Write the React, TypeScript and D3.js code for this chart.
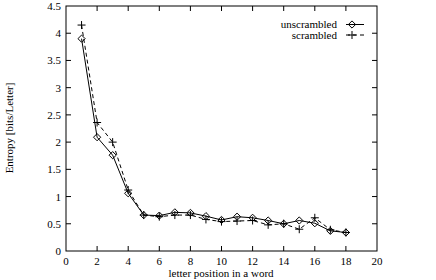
import React from "react";
import * as d3 from "d3";

const positions = [1, 2, 3, 4, 5, 6, 7, 8, 9, 10, 11, 12, 13, 14, 15, 16, 17, 18];
const unscrambled = [3.9, 2.09, 1.76, 1.06, 0.66, 0.65, 0.71, 0.7, 0.64, 0.57, 0.63, 0.61, 0.56, 0.5, 0.56, 0.51, 0.37, 0.34];
const scrambled = [4.15, 2.36, 2.0, 1.12, 0.66, 0.63, 0.66, 0.66, 0.58, 0.54, 0.55, 0.56, 0.48, 0.5, 0.4, 0.61, 0.39, 0.34];
const xTicks = [0, 2, 4, 6, 8, 10, 12, 14, 16, 18, 20];
const yTicks = [0, 0.5, 1, 1.5, 2, 2.5, 3, 3.5, 4, 4.5];
const seriesNames = ["unscrambled", "scrambled"];

const W = 436, H = 280;
const L = 66, R = 377, T = 6, B = 251;
const font = "Liberation Serif, DejaVu Serif, serif";

function Diamond({ x, y }: { x: number; y: number }) {
  const s = 3.6;
  return <path d={`M${x},${y - s}L${x + s},${y}L${x},${y + s}L${x - s},${y}Z`} fill="none" stroke="#000" strokeWidth={1} />;
}
function Plus({ x, y }: { x: number; y: number }) {
  const s = 4;
  return <path d={`M${x - s},${y}H${x + s}M${x},${y - s}V${y + s}`} fill="none" stroke="#000" strokeWidth={1} />;
}

export default function App() {
  const x = d3.scaleLinear().domain([0, 20]).range([L, R]);
  const y = d3.scaleLinear().domain([0, 4.5]).range([B, T]);
  const line = d3.line<number>().x((_, i) => x(positions[i])).y((d) => y(d));
  const tl = 5;
  return (
    <svg width={W} height={H} style={{ position: "absolute", left: 0, top: 0, fontFamily: font, fontSize: 11 }}>
      <rect x={0} y={0} width={W} height={H} fill="#fff" />
      <rect x={L} y={T} width={R - L} height={B - T} fill="none" stroke="#000" strokeWidth={1} />
      {xTicks.map((t) => (
        <g key={"x" + t}>
          {t > 0 && t < 20 && (
            <>
              <line x1={x(t)} x2={x(t)} y1={B} y2={B - tl} stroke="#000" />
              <line x1={x(t)} x2={x(t)} y1={T} y2={T + tl} stroke="#000" />
            </>
          )}
          <text x={x(t)} y={B + 14} textAnchor="middle">{t}</text>
        </g>
      ))}
      {yTicks.map((t) => (
        <g key={"y" + t}>
          {t > 0 && t < 4.5 && (
            <>
              <line x1={L} x2={L + tl} y1={y(t)} y2={y(t)} stroke="#000" />
              <line x1={R} x2={R - tl} y1={y(t)} y2={y(t)} stroke="#000" />
            </>
          )}
          <text x={L - 5} y={y(t) + 4} textAnchor="end">{t}</text>
        </g>
      ))}
      <text x={221} y={277} textAnchor="middle">letter position in a word</text>
      <text transform={`translate(13,128) rotate(-90)`} textAnchor="middle">Entropy [bits/Letter]</text>

      <path d={line(unscrambled) || ""} fill="none" stroke="#000" strokeWidth={1} />
      <path d={line(scrambled) || ""} fill="none" stroke="#000" strokeWidth={1} strokeDasharray="4,3" />
      {scrambled.map((v, i) => <Plus key={"s" + i} x={x(positions[i])} y={y(v)} />)}
      {unscrambled.map((v, i) => <Diamond key={"u" + i} x={x(positions[i])} y={y(v)} />)}

      <text x={337} y={28} textAnchor="end">{seriesNames[0]}</text>
      <line x1={346} x2={364} y1={24.5} y2={24.5} stroke="#000" />
      <Diamond x={352} y={24.5} />
      <text x={337} y={39} textAnchor="end">{seriesNames[1]}</text>
      <line x1={346} x2={364} y1={35} y2={35} stroke="#000" strokeDasharray="4,3" />
      <Plus x={352} y={35} />
    </svg>
  );
}
